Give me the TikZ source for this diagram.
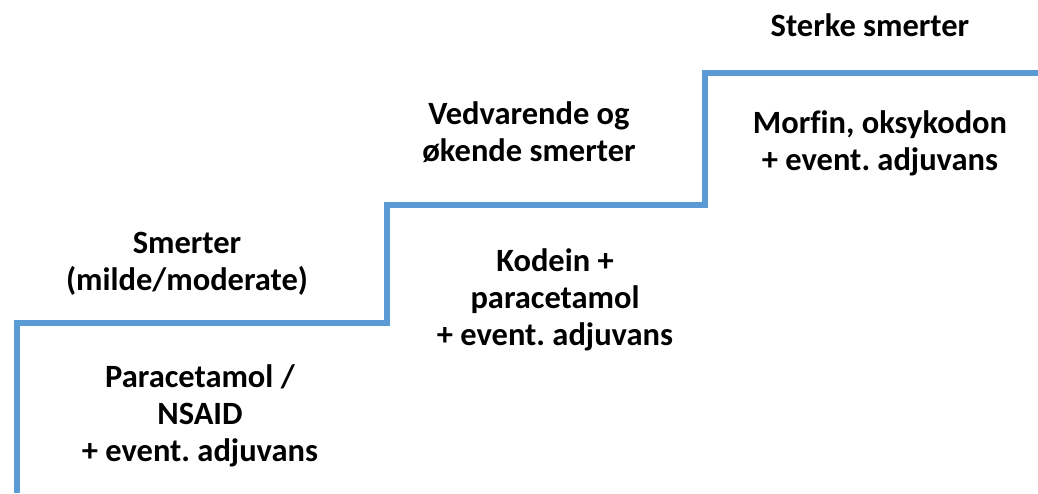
\documentclass[tikz,border=0pt]{standalone}
\usepackage{fontspec}
\setmainfont[Ligatures=NoCommon]{Carlito}
\definecolor{stairblue}{HTML}{5B9BD5}
\begin{document}
\frenchspacing
\begin{tikzpicture}[x=1pt,y=-1pt,
  lbl/.style={font=\bfseries\fontsize{32.5}{37}\selectfont, align=center, text=black, inner sep=0pt},
  stair/.style={draw=stairblue, line width=6pt, line join=miter, line cap=butt}]
\useasboundingbox (0,0) rectangle (1038,493);
\coordinate (s0) at (17,493);
\coordinate (s1) at (17,323);
\coordinate (s2) at (387,323);
\coordinate (s3) at (387,205);
\coordinate (s4) at (705,205);
\coordinate (s5) at (705,73);
\coordinate (s6) at (1038,73);
\draw[stair] (s0) -- (s1) -- (s2) -- (s3) -- (s4) -- (s5) -- (s6);
\node[lbl] (t1) at (870,25) {Sterke smerter};
\node[lbl] (t2) at (529,132) {Vedvarende og\\økende smerter};
\node[lbl] (t3) at (880,143) {Morfin, oksykodon\\+ event. adjuvans};
\node[lbl] (t4) at (187,264) {Smerter\\(milde/moderate)};
\node[lbl] (t5) at (555,300) {Kodein +\\paracetamol\\+ event. adjuvans};
\node[lbl] (t6) at (200,416) {Paracetamol /\\NSAID\\+ event. adjuvans};
\end{tikzpicture}
\end{document}
